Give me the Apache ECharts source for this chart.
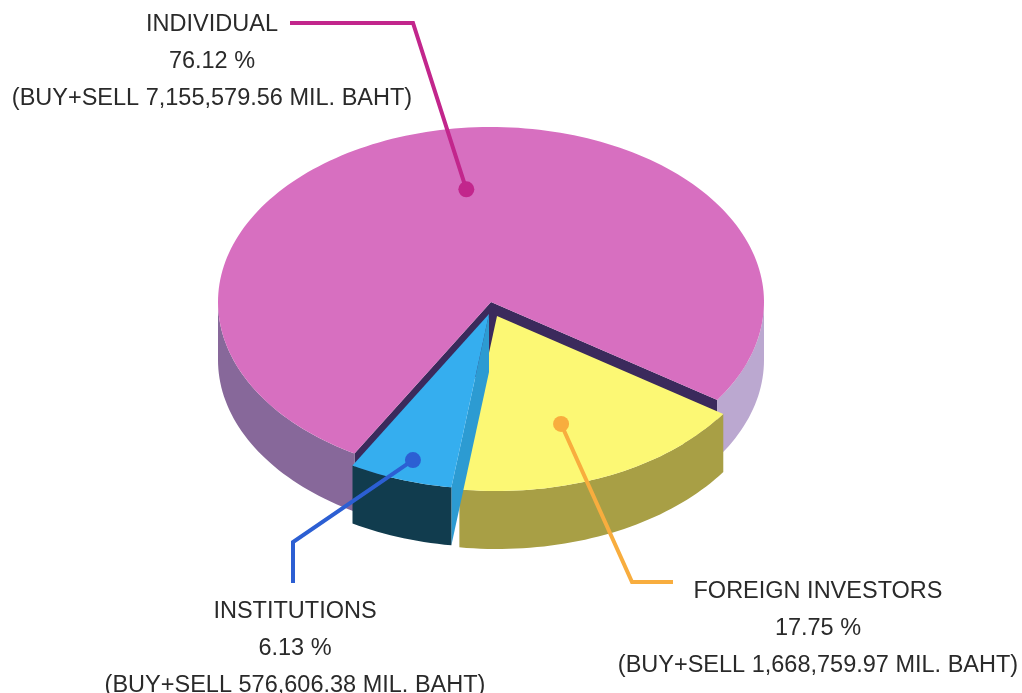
<!DOCTYPE html>
<html>
<head>
<meta charset="utf-8">
<script src="https://cdn.jsdelivr.net/npm/echarts@6.0.0/dist/echarts.min.js"></script>
<style>
  html, body { margin: 0; padding: 0; background: #fff; }
  #main { width: 1022px; height: 693px; }
</style>
</head>
<body>
<div id="main"></div>
<script>
// investor groups, buy+sell value in mil. baht
const categories = ['INDIVIDUAL', 'FOREIGN INVESTORS', 'INSTITUTIONS'];
const amounts = [7155579.56, 1668759.97, 576606.38];
const percents = [76.12, 17.75, 6.13];

// look of each slice
const topColors = ['#d76fc0', '#fcf874', '#35aeef'];
const sideLeftColors = ['#87689a', '#a89f45', '#113c4e'];
const sideRightColors = ['#bba8d0', '#a89f45', '#113c4e'];
const wallColors = ['#3b2a5c', '#3b2a5c', '#2c9bd2'];
const explodeShift = [[0, 0], [6, 14], [-2, 12]];
const lineColors = ['#c2268c', '#f8ad3e', '#2c5fd3'];
const dotAngle = [5, 3.2, -0.5];
const dotRadius = [0.65, 0.66, 0.88];
const labelPos = [[212, 6], [818, 573], [295, 593]];
const leaderPath = [[[413, 23], [290, 23]], [[632, 582], [673, 582]], [[293, 542], [293, 583]]];

const CX = 491, CY = 302, RX = 273, RY = 175, DEPTH = 58, START = 120;

const total = amounts.reduce((s, v) => s + v, 0);
const slices = [];
let acc = START;
amounts.forEach(v => {
  const span = v / total * 360;
  slices.push({ a: acc, b: acc + span });
  acc += span;
});

const rad = d => d * Math.PI / 180;
function pt(cx, cy, ang, r, dz) {
  return [cx + RX * r * Math.cos(rad(ang)), cy + RY * r * Math.sin(rad(ang)) + (dz || 0)];
}
function arc(cx, cy, a, b, dz) {
  const pts = [];
  const n = Math.max(2, Math.ceil(Math.abs(b - a) / 1.5));
  for (let i = 0; i <= n; i++) pts.push(pt(cx, cy, a + (b - a) * i / n, 1, dz));
  return pts;
}
function fmt(v) {
  return v.toLocaleString('en-US', { minimumFractionDigits: 2, maximumFractionDigits: 2 });
}

function renderItem(params, api) {
  const i = params.dataIndex;
  const s = slices[i];
  const mid = (s.a + s.b) / 2;
  const cx = CX + explodeShift[i][0];
  const cy = CY + explodeShift[i][1];
  const children = [];

  // cut walls facing the viewer
  [[s.a, -Math.cos(rad(s.a))], [s.b, Math.cos(rad(s.b))]].forEach(([ang, vis]) => {
    if (vis <= 0) return;
    const e = pt(cx, cy, ang, 1);
    children.push({
      type: 'polygon',
      shape: { points: [[cx, cy], e, [e[0], e[1] + DEPTH], [cx, cy + DEPTH]] },
      style: { fill: wallColors[i] }
    });
  });

  // outer rim, front half only
  for (let k = 0; k <= 1; k++) {
    const lo = Math.max(s.a, 360 * k), hi = Math.min(s.b, 360 * k + 180);
    if (lo >= hi) continue;
    const top = arc(cx, cy, lo, hi, 0);
    const bot = arc(cx, cy, hi, lo, DEPTH);
    const m = (lo + hi) / 2;
    children.push({
      type: 'polygon',
      shape: { points: top.concat(bot) },
      style: { fill: Math.cos(rad(m)) < 0 ? sideLeftColors[i] : sideRightColors[i] }
    });
  }

  // top face
  children.push({
    type: 'polygon',
    shape: { points: [[cx, cy]].concat(arc(cx, cy, s.a, s.b, 0)) },
    style: { fill: topColors[i] }
  });

  // leader line and label
  const d = pt(cx, cy, mid + dotAngle[i], dotRadius[i]);
  children.push({
    type: 'polyline', z2: 10,
    shape: { points: [d].concat(leaderPath[i]) },
    style: { stroke: lineColors[i], lineWidth: 4, fill: null }
  });
  children.push({
    type: 'circle', z2: 11,
    shape: { cx: d[0], cy: d[1], r: 8 },
    style: { fill: lineColors[i] }
  });
  children.push({
    type: 'text', z2: 12,
    style: {
      text: categories[i] + '\n' + percents[i].toFixed(2) + ' %\n(BUY+SELL ' + fmt(amounts[i]) + ' MIL. BAHT)',
      x: labelPos[i][0], y: labelPos[i][1],
      align: 'center', verticalAlign: 'top',
      fontSize: 23.5, fontFamily: '"Liberation Sans", Arial, sans-serif',
      lineHeight: 37, fill: '#2a2a2a'
    }
  });

  return { type: 'group', children: children };
}

const chart = echarts.init(document.getElementById('main'), null, { renderer: 'canvas' });
chart.setOption({
  backgroundColor: '#ffffff',
  animation: false,
  series: [{
    type: 'custom',
    coordinateSystem: 'none',
    renderItem: renderItem,
    data: amounts.map((v, i) => ({ name: categories[i], value: v }))
  }]
});
</script>
</body>
</html>
